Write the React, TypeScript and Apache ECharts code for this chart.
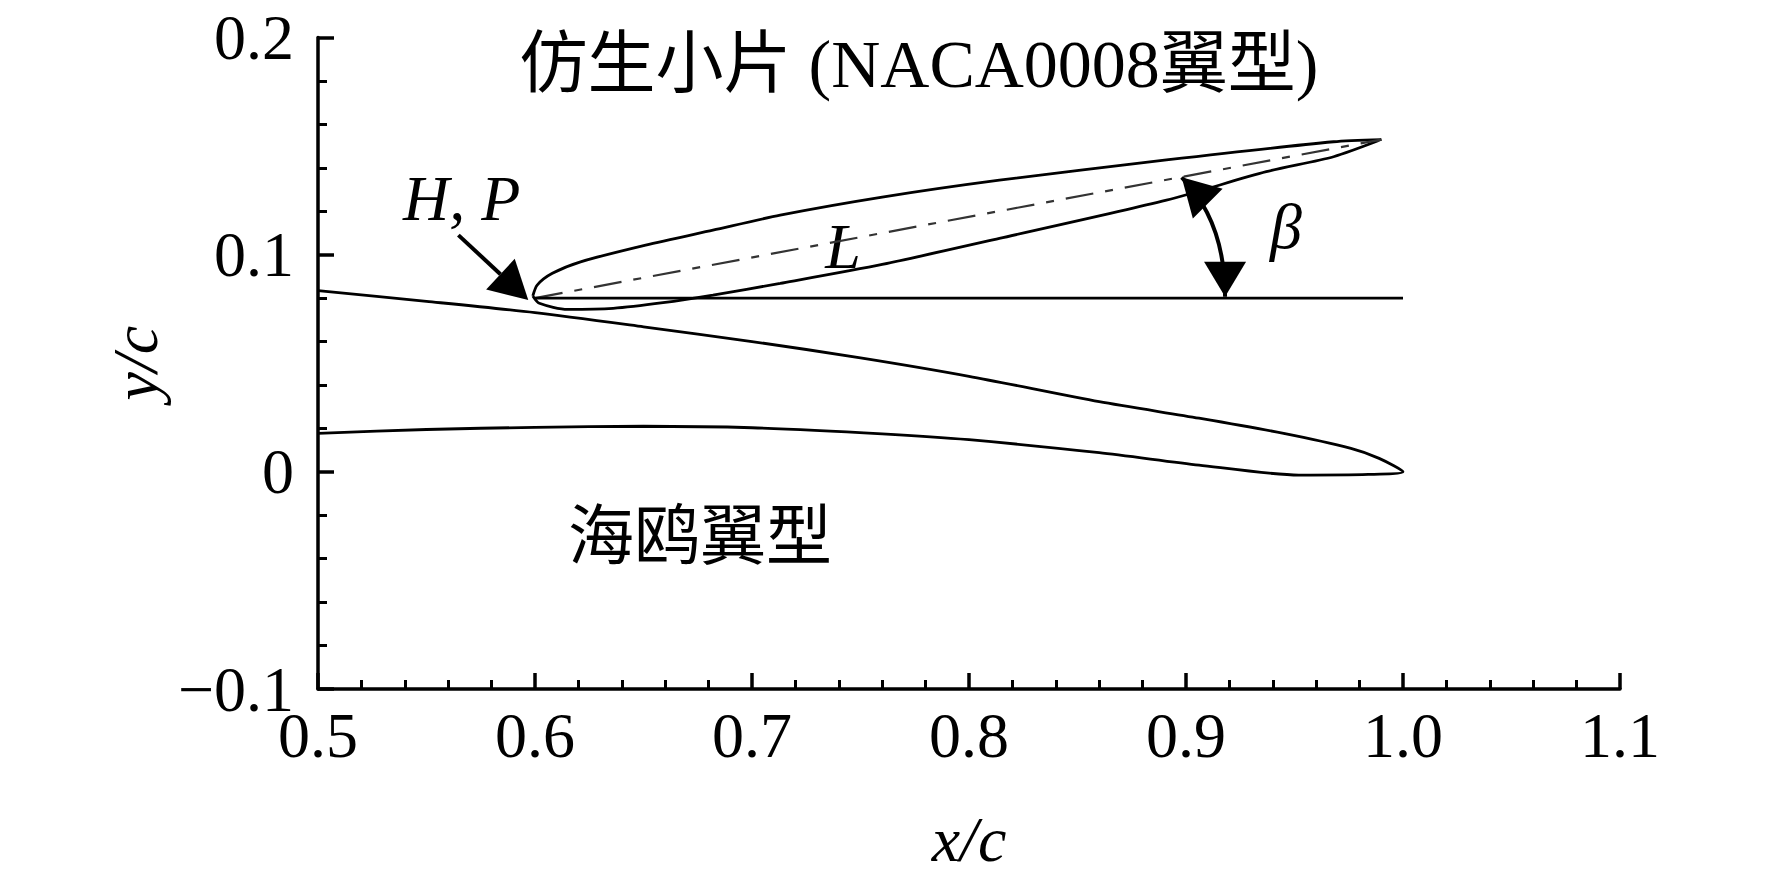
import React, { useEffect, useRef } from "react";
import * as echarts from "echarts";

// Axis tick labels
const xTickLabels = ["0.5", "0.6", "0.7", "0.8", "0.9", "1.0", "1.1"];
const yTickLabels = ["\u22120.1", "0", "0.1", "0.2"];

// Seagull airfoil: upper surface (leading part clipped at x/c = 0.5) to trailing edge
const seagullUpperX = [0.5, 0.55, 0.6, 0.65, 0.7, 0.75, 0.8, 0.86, 0.906, 0.945, 0.976, 0.989, 1.0];
const seagullUpperY = [0.0834, 0.0785, 0.0733, 0.0668, 0.06, 0.0525, 0.044, 0.0323, 0.0247, 0.0177, 0.0108, 0.0062, 0.0];
// Seagull airfoil: lower surface from trailing edge back to x/c = 0.5
const seagullLowerX = [1.0, 0.984, 0.952, 0.906, 0.86, 0.8, 0.76, 0.7, 0.65, 0.6, 0.55, 0.5];
const seagullLowerY = [0.0, -0.0012, -0.0015, 0.0031, 0.0088, 0.0148, 0.0175, 0.0203, 0.021, 0.0205, 0.0195, 0.0177];

// Bionic flaplet (NACA0008): upper surface LE -> TE
const flapUpperX = [0.599, 0.601, 0.608, 0.621, 0.651, 0.682, 0.713, 0.76, 0.814, 0.891, 0.968, 0.99];
const flapUpperY = [0.081, 0.086, 0.0914, 0.0967, 0.1044, 0.1113, 0.1182, 0.1265, 0.1343, 0.1436, 0.152, 0.153];
// lower surface TE -> LE
const flapLowerX = [0.99, 0.968, 0.937, 0.891, 0.814, 0.76, 0.713, 0.682, 0.659, 0.636, 0.615, 0.602, 0.599];
const flapLowerY = [0.153, 0.1451, 0.1382, 0.1251, 0.1075, 0.0955, 0.0868, 0.0814, 0.0779, 0.0753, 0.0748, 0.0776, 0.081];

// Chord line L (dash-dot) and horizontal reference line
const chordX = [0.6, 0.99];
const chordY = [0.08, 0.153];
const refX = [0.6, 1.0];
const refY = [0.08, 0.08];

// Annotation arrows: H,P pointer [tailX, tailY, tipX, tipY]
const hpArrow = [0.5647, 0.109, 0.5969, 0.0791];
// beta double arrow: [tipAX, tipAY, ctrlX, ctrlY, tipBX, tipBY]
const betaArrow = [0.898, 0.1356, 0.918, 0.1155, 0.918, 0.0806];

const FONT = '"Liberation Serif", "Times New Roman", "Noto Sans CJK SC", serif';

function zip(xs: number[], ys: number[]) {
  return xs.map((x, i) => [x, ys[i]]);
}

function head(tip: number[], from: number[], len: number, width: number) {
  const dx = tip[0] - from[0];
  const dy = tip[1] - from[1];
  const d = Math.sqrt(dx * dx + dy * dy) || 1;
  const ux = dx / d;
  const uy = dy / d;
  const bx = tip[0] - ux * len;
  const by = tip[1] - uy * len;
  const px = -uy * (width / 2);
  const py = ux * (width / 2);
  return {
    base: [bx, by],
    points: [
      [tip[0], tip[1]],
      [bx + px, by + py],
      [bx - px, by - py],
    ],
  };
}

export default function App() {
  const ref = useRef<HTMLDivElement>(null);

  useEffect(() => {
    if (!ref.current) return;
    const chart = echarts.init(ref.current, null, { renderer: "svg" });

    const seagull = zip(seagullUpperX, seagullUpperY).concat(zip(seagullLowerX, seagullLowerY));
    const flap = zip(flapUpperX, flapUpperY).concat(zip(flapLowerX, flapLowerY));

    const axisCommon = {
      type: "value" as const,
      splitLine: { show: false },
      minorSplitLine: { show: false },
      axisLine: { show: true, onZero: false, lineStyle: { color: "#000", width: 3.5 } },
      axisTick: { show: true, inside: true, length: 16, lineStyle: { color: "#000", width: 3.5 } },
      minorTick: { show: true, splitNumber: 5, length: 9, lineStyle: { color: "#000", width: 3 } },
      nameLocation: "middle" as const,
      nameTextStyle: { fontFamily: FONT, fontSize: 64, fontStyle: "italic" as const, color: "#000" },
    };

    const option: any = {
      animation: false,
      backgroundColor: "#fff",
      grid: { left: 318, right: 152, top: 37.5, bottom: 191, containLabel: false },
      xAxis: {
        ...axisCommon,
        min: 0.5,
        max: 1.1,
        interval: 0.1,
        name: "x/c",
        nameGap: 118,
        axisLabel: {
          show: true,
          showMinLabel: true,
          showMaxLabel: true,
          margin: 14,
          fontFamily: FONT,
          fontSize: 64,
          color: "#000",
          formatter: (v: number) => xTickLabels[Math.round((v - 0.5) / 0.1)] ?? "",
        },
      },
      yAxis: {
        ...axisCommon,
        min: -0.1,
        max: 0.2,
        interval: 0.1,
        name: "y/c",
        nameGap: 138,
        axisLabel: {
          show: true,
          showMinLabel: true,
          showMaxLabel: true,
          margin: 24,
          fontFamily: FONT,
          fontSize: 64,
          color: "#000",
          formatter: (v: number) => yTickLabels[Math.round((v + 0.1) / 0.1)] ?? "",
        },
      },
      series: [
        {
          type: "line",
          name: "海鸥翼型",
          data: seagull,
          symbol: "none",
          smooth: 0.25,
          clip: false,
          lineStyle: { color: "#000", width: 2.8 },
        },
        {
          type: "line",
          name: "仿生小片",
          data: flap,
          symbol: "none",
          smooth: 0.25,
          clip: false,
          lineStyle: { color: "#000", width: 2.8 },
        },
        {
          type: "line",
          name: "L",
          data: zip(chordX, chordY),
          symbol: "none",
          lineStyle: { color: "#333", width: 2.2, type: [28, 12, 8, 12] },
        },
        {
          type: "line",
          name: "ref",
          data: zip(refX, refY),
          symbol: "none",
          lineStyle: { color: "#000", width: 2.8 },
        },
        {
          type: "custom",
          name: "hpArrow",
          clip: false,
          data: [hpArrow],
          encode: { x: [0, 2], y: [1, 3] },
          renderItem: (params: any, api: any) => {
            const p0 = api.coord([api.value(0), api.value(1)]);
            const p1 = api.coord([api.value(2), api.value(3)]);
            const h = head(p1, p0, 38, 42);
            return {
              type: "group",
              children: [
                {
                  type: "line",
                  shape: { x1: p0[0], y1: p0[1], x2: h.base[0], y2: h.base[1] },
                  style: { stroke: "#000", lineWidth: 4 },
                },
                { type: "polygon", shape: { points: h.points }, style: { fill: "#000" } },
              ],
            };
          },
        },
        {
          type: "custom",
          name: "betaArrow",
          clip: false,
          data: [betaArrow],
          encode: { x: [0, 2, 4], y: [1, 3, 5] },
          renderItem: (params: any, api: any) => {
            const a = api.coord([api.value(0), api.value(1)]);
            const c = api.coord([api.value(2), api.value(3)]);
            const b = api.coord([api.value(4), api.value(5)]);
            const ha = head(a, c, 37, 42);
            const hb = head(b, c, 35, 42);
            return {
              type: "group",
              children: [
                {
                  type: "bezierCurve",
                  shape: { x1: a[0], y1: a[1], x2: b[0], y2: b[1], cpx1: c[0], cpy1: c[1] },
                  style: { stroke: "#000", lineWidth: 4, fill: "none" },
                },
                { type: "polygon", shape: { points: ha.points }, style: { fill: "#000" } },
                { type: "polygon", shape: { points: hb.points }, style: { fill: "#000" } },
              ],
            };
          },
        },
      ],
      graphic: [
        {
          type: "text",
          x: 919,
          y: 64,
          style: {
            text: "仿生小片 (NACA0008翼型)",
            fontFamily: FONT,
            fontSize: 68,
            fill: "#000",
            align: "center",
            verticalAlign: "middle",
          },
        },
        {
          type: "text",
          x: 700,
          y: 536,
          style: {
            text: "海鸥翼型",
            fontFamily: FONT,
            fontSize: 66,
            fill: "#000",
            align: "center",
            verticalAlign: "middle",
          },
        },
        {
          type: "text",
          x: 403,
          y: 198,
          style: {
            text: "H, P",
            fontFamily: FONT,
            fontSize: 64,
            fontStyle: "italic",
            fill: "#000",
            align: "left",
            verticalAlign: "middle",
          },
        },
        {
          type: "text",
          x: 843,
          y: 246,
          style: {
            text: "L",
            fontFamily: FONT,
            fontSize: 64,
            fontStyle: "italic",
            fill: "#000",
            align: "center",
            verticalAlign: "middle",
          },
        },
        {
          type: "text",
          x: 1286,
          y: 226,
          style: {
            text: "β",
            fontFamily: FONT,
            fontSize: 64,
            fontStyle: "italic",
            fill: "#000",
            align: "center",
            verticalAlign: "middle",
          },
        },
      ],
    };

    chart.setOption(option);
    return () => chart.dispose();
  }, []);

  return (
    <div
      ref={ref}
      style={{ position: "absolute", left: 0, top: 0, width: 1772, height: 880, background: "#fff" }}
    />
  );
}
